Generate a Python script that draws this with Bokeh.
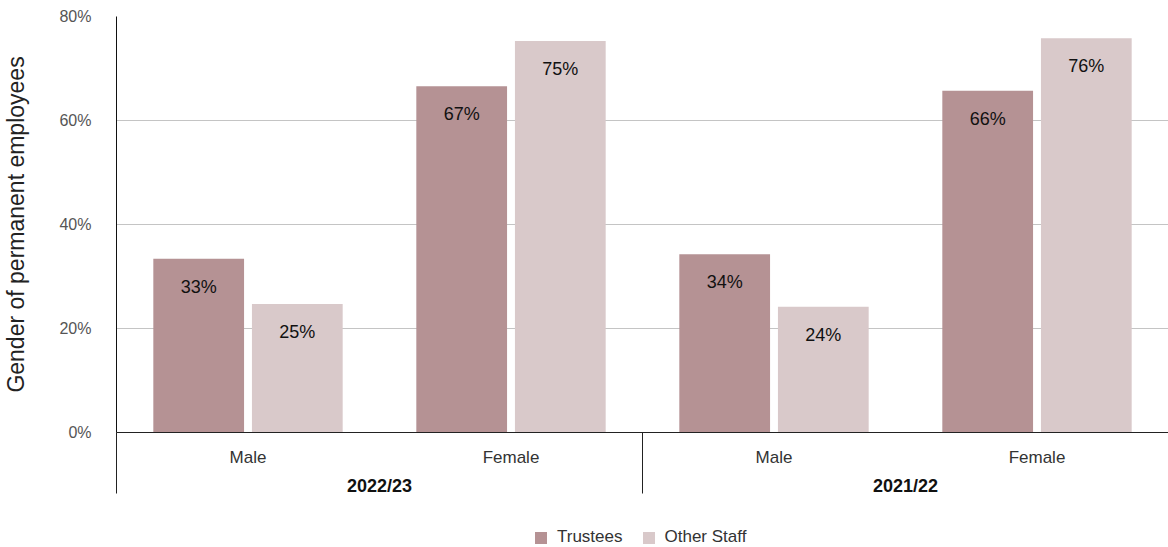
from bokeh.plotting import figure
from bokeh.layouts import column
from bokeh.models import (Range1d, LinearAxis, FixedTicker, PrintfTickFormatter,
                          ColumnDataSource, Legend, LegendItem)
from bokeh.transform import dodge
from bokeh.core.properties import value
from bokeh.embed import file_html
from bokeh.resources import INLINE

# ---- data ----
years = ["2022/23", "2021/22"]
genders = ["Male", "Female"]
series_names = ["Trustees", "Other Staff"]
trustees = [33.4, 66.6, 34.3, 65.7]
other_staff = [24.7, 75.3, 24.2, 75.8]
y_ticks = [0, 20, 40, 60, 80]
y_title = "Gender of permanent employees"

# ---- styles ----
colors = ["#b59294", "#d9c9ca"]
FONT = "Liberation Sans"

factors = [(y, g) for y in years for g in genders]
n = len(factors)
slot = [i + 0.5 for i in range(n)]          # centre of each (year, gender) slot
src = ColumnDataSource(dict(
    x=slot,
    trustees=trustees,
    other=other_staff,
    t_lab=[f"{round(v)}%" for v in trustees],
    o_lab=[f"{round(v)}%" for v in other_staff],
))

p = figure(
    x_range=Range1d(0, n),
    y_range=Range1d(0, 80),
    width=1168, height=520,
    output_backend="svg", toolbar_location=None,
    x_axis_location=None, y_axis_location="left",
    min_border_left=116, min_border_right=0, min_border_top=16, min_border_bottom=88,
)
p.outline_line_color = None
p.background_fill_color = "white"
p.border_fill_color = "white"

# y axis
yt = FixedTicker(ticks=y_ticks, minor_ticks=[])
ax = p.yaxis[0]
ax.ticker = yt
ax.formatter = PrintfTickFormatter(format="%d%%")
ax.axis_label = y_title
ax.axis_label_text_font = FONT
ax.axis_label_text_font_size = "23px"
ax.axis_label_text_font_style = "normal"
ax.axis_label_text_color = "#222222"
ax.axis_label_standoff = 27
ax.major_label_text_font = FONT
ax.major_label_text_font_size = "16px"
ax.major_label_text_color = "#555555"
ax.major_label_standoff = 25
ax.major_tick_out = 0
ax.major_tick_in = 0
ax.minor_tick_out = 0
ax.minor_tick_in = 0
ax.axis_line_color = "#111111"
ax.axis_line_width = 1

for g in p.ygrid:
    g.ticker = yt
    g.grid_line_color = "#c4c4c4"
    g.grid_line_width = 1
for g in p.xgrid:
    g.visible = False

# bottom axes: gender labels + group separators, then year labels
sep_ticks = [yi * len(genders) for yi in range(len(years))]
year_ticks = [yi * len(genders) + len(genders) / 2 for yi in range(len(years))]

ax1 = LinearAxis(
    ticker=FixedTicker(ticks=slot, minor_ticks=sep_ticks),
    major_label_overrides={t: f[1] for t, f in zip(slot, factors)},
    axis_line_color="#222222", axis_line_width=1,
    major_tick_out=0, major_tick_in=0,
    minor_tick_out=61, minor_tick_in=0,
    minor_tick_line_color="#222222", minor_tick_line_width=1,
    major_label_standoff=-46,
    major_label_text_font=FONT, major_label_text_font_size="17px",
    major_label_text_color="#333333",
)
ax2 = LinearAxis(
    ticker=FixedTicker(ticks=year_ticks, minor_ticks=[]),
    major_label_overrides={t: y for t, y in zip(year_ticks, years)},
    axis_line_color=None,
    major_tick_out=0, major_tick_in=0,
    minor_tick_out=0, minor_tick_in=0,
    major_label_standoff=6,
    major_label_text_font=FONT, major_label_text_font_size="18px",
    major_label_text_font_style="bold",
    major_label_text_color="#111111",
)
p.add_layout(ax1, "below")
p.add_layout(ax2, "below")

# bars
off = 0.1875
bw = 0.345
p.vbar(x=dodge("x", -off), top="trustees", width=bw, source=src,
       fill_color=colors[0], line_color=None)
p.vbar(x=dodge("x", off), top="other", width=bw, source=src,
       fill_color=colors[1], line_color=None)

# value labels
for col, lab, o in (("trustees", "t_lab", -off), ("other", "o_lab", off)):
    p.text(x=dodge("x", o), y=col, text=lab, source=src,
           text_align="center", text_baseline="middle", y_offset=28,
           text_font=value(FONT), text_font_size="18px", text_color="#111111")

# legend strip (zero-height proxy bars carry the legend swatches)
q = figure(
    x_range=Range1d(0, 1), y_range=Range1d(0, 1),
    width=1168, height=27,
    output_backend="svg", toolbar_location=None,
    x_axis_location=None, y_axis_location=None,
    min_border_left=0, min_border_right=0, min_border_top=0, min_border_bottom=0,
)
q.outline_line_color = None
q.xgrid.visible = False
q.ygrid.visible = False
lr = [q.vbar(x=[0.5], top=[0], bottom=[0], width=0, fill_color=c, line_color=None)
      for c in colors]
legend = Legend(
    items=[LegendItem(label=s, renderers=[r]) for s, r in zip(series_names, lr)],
    orientation="horizontal",
    location=(417, 0),
    glyph_width=15, glyph_height=15, label_standoff=9, spacing=18,
    padding=0, margin=0, label_height=15,
    label_text_font=FONT, label_text_font_size="17px", label_text_color="#333333",
    border_line_color=None, background_fill_alpha=0,
)
q.add_layout(legend)

open("out.html", "w").write(file_html(column(p, q), INLINE))
